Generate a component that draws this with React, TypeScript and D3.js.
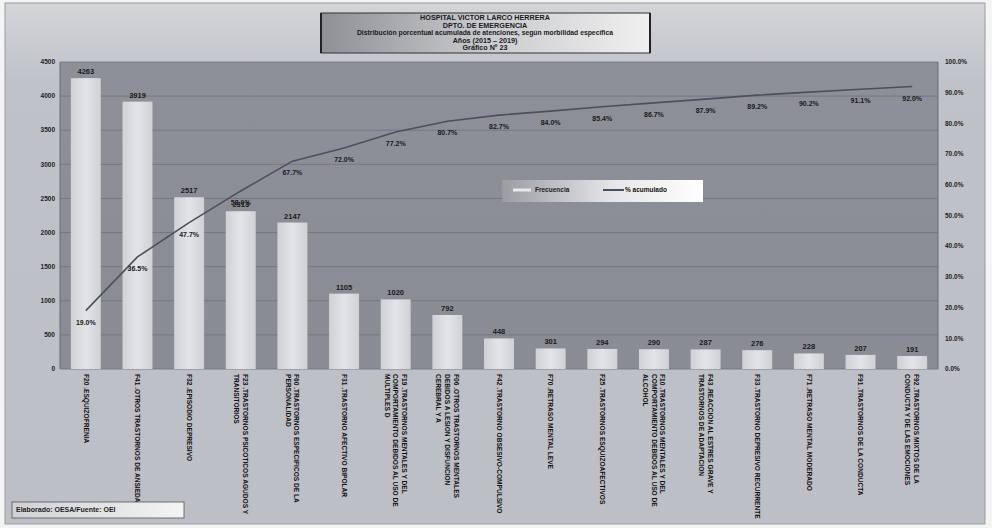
import React from "react";
import * as d3 from "d3";

const titleLines = [
  "HOSPITAL VICTOR LARCO HERRERA",
  "DPTO. DE EMERGENCIA",
  "Distribución porcentual acumulada de atenciones, según morbilidad específica",
  "Años (2015 – 2019)",
  "Gráfico Nº 23",
];

const categories: string[][] = [
  ["F20 .ESQUIZOFRENIA"],
  ["F41 .OTROS TRASTORNOS DE ANSIEDAD"],
  ["F32 .EPISODIO DEPRESIVO"],
  ["F23 .TRASTORNOS PSICOTICOS AGUDOS Y", "TRANSITORIOS"],
  ["F60 .TRASTORNOS ESPECIFICOS DE LA", "PERSONALIDAD"],
  ["F31 .TRASTORNO AFECTIVO BIPOLAR"],
  ["F19 .TRASTORNOS MENTALES Y DEL", "COMPORTAMIENTO DEBIDOS AL USO DE", "MULTIPLES D"],
  ["F06 .OTROS TRASTORNOS MENTALES", "DEBIDOS A LESION Y DISFUNCION", "CEREBRAL Y A"],
  ["F42 .TRASTORNO OBSESIVO-COMPULSIVO"],
  ["F70 .RETRASO MENTAL LEVE"],
  ["F25 .TRASTORNOS ESQUIZOAFECTIVOS"],
  ["F10 .TRASTORNOS MENTALES Y DEL", "COMPORTAMIENTO DEBIDOS AL USO DE", "ALCOHOL"],
  ["F43 .REACCION AL ESTRES GRAVE Y", "TRASTORNOS DE ADAPTACION"],
  ["F33 .TRASTORNO DEPRESIVO RECURRENTE"],
  ["F71 .RETRASO MENTAL MODERADO"],
  ["F91 .TRASTORNOS DE LA CONDUCTA"],
  ["F92 .TRASTORNOS MIXTOS DE LA", "CONDUCTA Y DE LAS EMOCIONES"],
];

const frecuencia = [4263, 3919, 2517, 2313, 2147, 1105, 1020, 792, 448, 301, 294, 290, 287, 276, 228, 207, 191];
const acumulado = [19.0, 36.5, 47.7, 58.0, 67.7, 72.0, 77.2, 80.7, 82.7, 84.0, 85.4, 86.7, 87.9, 89.2, 90.2, 91.1, 92.0];

const leftTicks = [0, 500, 1000, 1500, 2000, 2500, 3000, 3500, 4000, 4500];
const rightTicks = [0, 10, 20, 30, 40, 50, 60, 70, 80, 90, 100];

const legendLabels = ["Frecuencia", "% acumulado"];
const footer = "Elaborado: OESA/Fuente: OEI";

const W = 992;
const H = 528;
const plot = { left: 60, right: 938, top: 62, bottom: 369 };
const FONT = "'Liberation Sans', Arial, sans-serif";

export default function App() {
  const idx = categories.map((_, i) => String(i));
  const x = d3
    .scaleBand<string>()
    .domain(idx)
    .range([plot.left, plot.right])
    .paddingInner(0.42)
    .paddingOuter(0.21);
  const yL = d3.scaleLinear().domain([0, 4500]).range([plot.bottom, plot.top]);
  const yR = d3.scaleLinear().domain([0, 100]).range([plot.bottom, plot.top]);
  const cx = (i: number) => (x(String(i)) as number) + x.bandwidth() / 2;

  const line = d3
    .line<number>()
    .x((_, i) => cx(i))
    .y((d) => yR(d));

  return (
    <div style={{ position: "absolute", left: 0, top: 0 }}>
      <svg width={W} height={H} style={{ display: "block" }} fontFamily={FONT}>
        <defs>
          <linearGradient id="bg" x1="0" y1="0" x2="0" y2="1">
            <stop offset="0" stopColor="#d3d5d9" />
            <stop offset="0.15" stopColor="#bfc2c8" />
            <stop offset="1" stopColor="#bcbfc5" />
          </linearGradient>
          <linearGradient id="plotbg" x1="0" y1="0" x2="0" y2="1">
            <stop offset="0" stopColor="#8d9098" />
            <stop offset="1" stopColor="#898c94" />
          </linearGradient>
          <linearGradient id="bar" x1="0" y1="0" x2="1" y2="0">
            <stop offset="0" stopColor="#d0d1d5" />
            <stop offset="0.5" stopColor="#e3e4e7" />
            <stop offset="1" stopColor="#d0d1d5" />
          </linearGradient>
          <linearGradient id="title" x1="0" y1="0" x2="1" y2="0">
            <stop offset="0" stopColor="#8e9096" />
            <stop offset="0.5" stopColor="#c9cacd" />
            <stop offset="1" stopColor="#f0f0f0" />
          </linearGradient>
          <linearGradient id="legend" x1="0" y1="0" x2="1" y2="0">
            <stop offset="0" stopColor="#9a9ca2" />
            <stop offset="0.55" stopColor="#e6e6e8" />
            <stop offset="1" stopColor="#ffffff" />
          </linearGradient>
          <linearGradient id="foot" x1="0" y1="0" x2="1" y2="0">
            <stop offset="0" stopColor="#d0d1d4" />
            <stop offset="1" stopColor="#f4f4f4" />
          </linearGradient>
        </defs>

        <rect x={0} y={0} width={W} height={H} fill="#f4f4f4" />
        <rect x={5} y={3} width={980} height={521} fill="url(#bg)" stroke="#9a9ca0" />

        {/* Title */}
        <rect x={321} y={13} width={329} height={40} fill="url(#title)" stroke="#333" strokeWidth={1} />
        <line x1={321} y1={13} x2={321} y2={53} stroke="#222" strokeWidth={2} />
        <line x1={650} y1={13} x2={650} y2={53} stroke="#222" strokeWidth={2} />
        {titleLines.map((t, i) => (
          <text
            key={i}
            x={485}
            y={20 + i * 7.6}
            textAnchor="middle"
            fontSize={i === 2 ? 6.8 : 7.2}
            fontWeight="bold"
            fill="#1a1a22"
          >
            {t}
          </text>
        ))}

        {/* Plot area */}
        <rect
          x={plot.left}
          y={plot.top}
          width={plot.right - plot.left}
          height={plot.bottom - plot.top}
          fill="url(#plotbg)"
        />
        {leftTicks.map((t) => (
          <line
            key={"g" + t}
            x1={plot.left}
            x2={plot.right}
            y1={yL(t)}
            y2={yL(t)}
            stroke="#6f7279"
            strokeWidth={0.8}
          />
        ))}
        <line x1={plot.left} x2={plot.left} y1={plot.top} y2={plot.bottom} stroke="#6a6d74" />
        <line x1={plot.right} x2={plot.right} y1={plot.top} y2={plot.bottom} stroke="#6a6d74" />

        {/* left axis labels */}
        {leftTicks.map((t) => (
          <text
            key={"l" + t}
            x={55}
            y={yL(t)}
            dy="0.35em"
            textAnchor="end"
            fontSize={6.5}
            fontWeight="bold"
            fill="#222"
          >
            {t}
          </text>
        ))}
        {/* right axis labels */}
        {rightTicks.map((t) => (
          <text
            key={"r" + t}
            x={945}
            y={yR(t)}
            dy="0.35em"
            textAnchor="start"
            fontSize={6.5}
            fontWeight="bold"
            fill="#222"
          >
            {t.toFixed(1) + "%"}
          </text>
        ))}

        {/* Bars */}
        {frecuencia.map((v, i) => (
          <rect
            key={"b" + i}
            x={x(String(i))}
            y={yL(v)}
            width={x.bandwidth()}
            height={yL(0) - yL(v)}
            fill="url(#bar)"
          />
        ))}
        {frecuencia.map((v, i) => (
          <text
            key={"bv" + i}
            x={cx(i)}
            y={yL(v) - 4}
            textAnchor="middle"
            fontSize={7.5}
            fontWeight="bold"
            fill="#1a1a1a"
          >
            {v}
          </text>
        ))}

        {/* Cumulative line */}
        <path d={line(acumulado) || ""} fill="none" stroke="#4b505c" strokeWidth={1.6} />
        {acumulado.map((p, i) => (
          <text
            key={"pv" + i}
            x={cx(i)}
            y={yR(p) + 14}
            textAnchor="middle"
            fontSize={7}
            fontWeight="bold"
            fill="#1a1a1a"
          >
            {p.toFixed(1) + "%"}
          </text>
        ))}

        {/* Category labels */}
        {categories.map((lines, i) => {
          const n = lines.length;
          const lh = 8.8;
          return (
            <text
              key={"c" + i}
              transform={`translate(${cx(i)},${plot.bottom + 5}) rotate(90)`}
              fontSize={6.6}
              fontWeight="bold"
              fill="#111"
            >
              {lines.map((l, j) => (
                <tspan key={j} x={0} y={(j - (n - 1) / 2) * lh} dy="0.35em">
                  {l}
                </tspan>
              ))}
            </text>
          );
        })}

        {/* Legend */}
        <rect x={502} y={180} width={201} height={22} fill="url(#legend)" />
        <line x1={513} x2={531} y1={190} y2={190} stroke="#e8e8ea" strokeWidth={3} />
        <text x={535} y={190} dy="0.35em" fontSize={6.5} fontWeight="bold" fill="#222">
          {legendLabels[0]}
        </text>
        <line x1={603} x2={624} y1={190} y2={190} stroke="#4b505c" strokeWidth={2} />
        <text x={625} y={190} dy="0.35em" fontSize={6.5} fontWeight="bold" fill="#111">
          {legendLabels[1]}
        </text>

        {/* Footer */}
        <rect x={12} y={502} width={172} height={16} fill="url(#foot)" stroke="#555" strokeWidth={0.8} />
        <text x={16} y={510} dy="0.35em" fontSize={7} fontWeight="bold" fill="#222">
          {footer}
        </text>
      </svg>
    </div>
  );
}
